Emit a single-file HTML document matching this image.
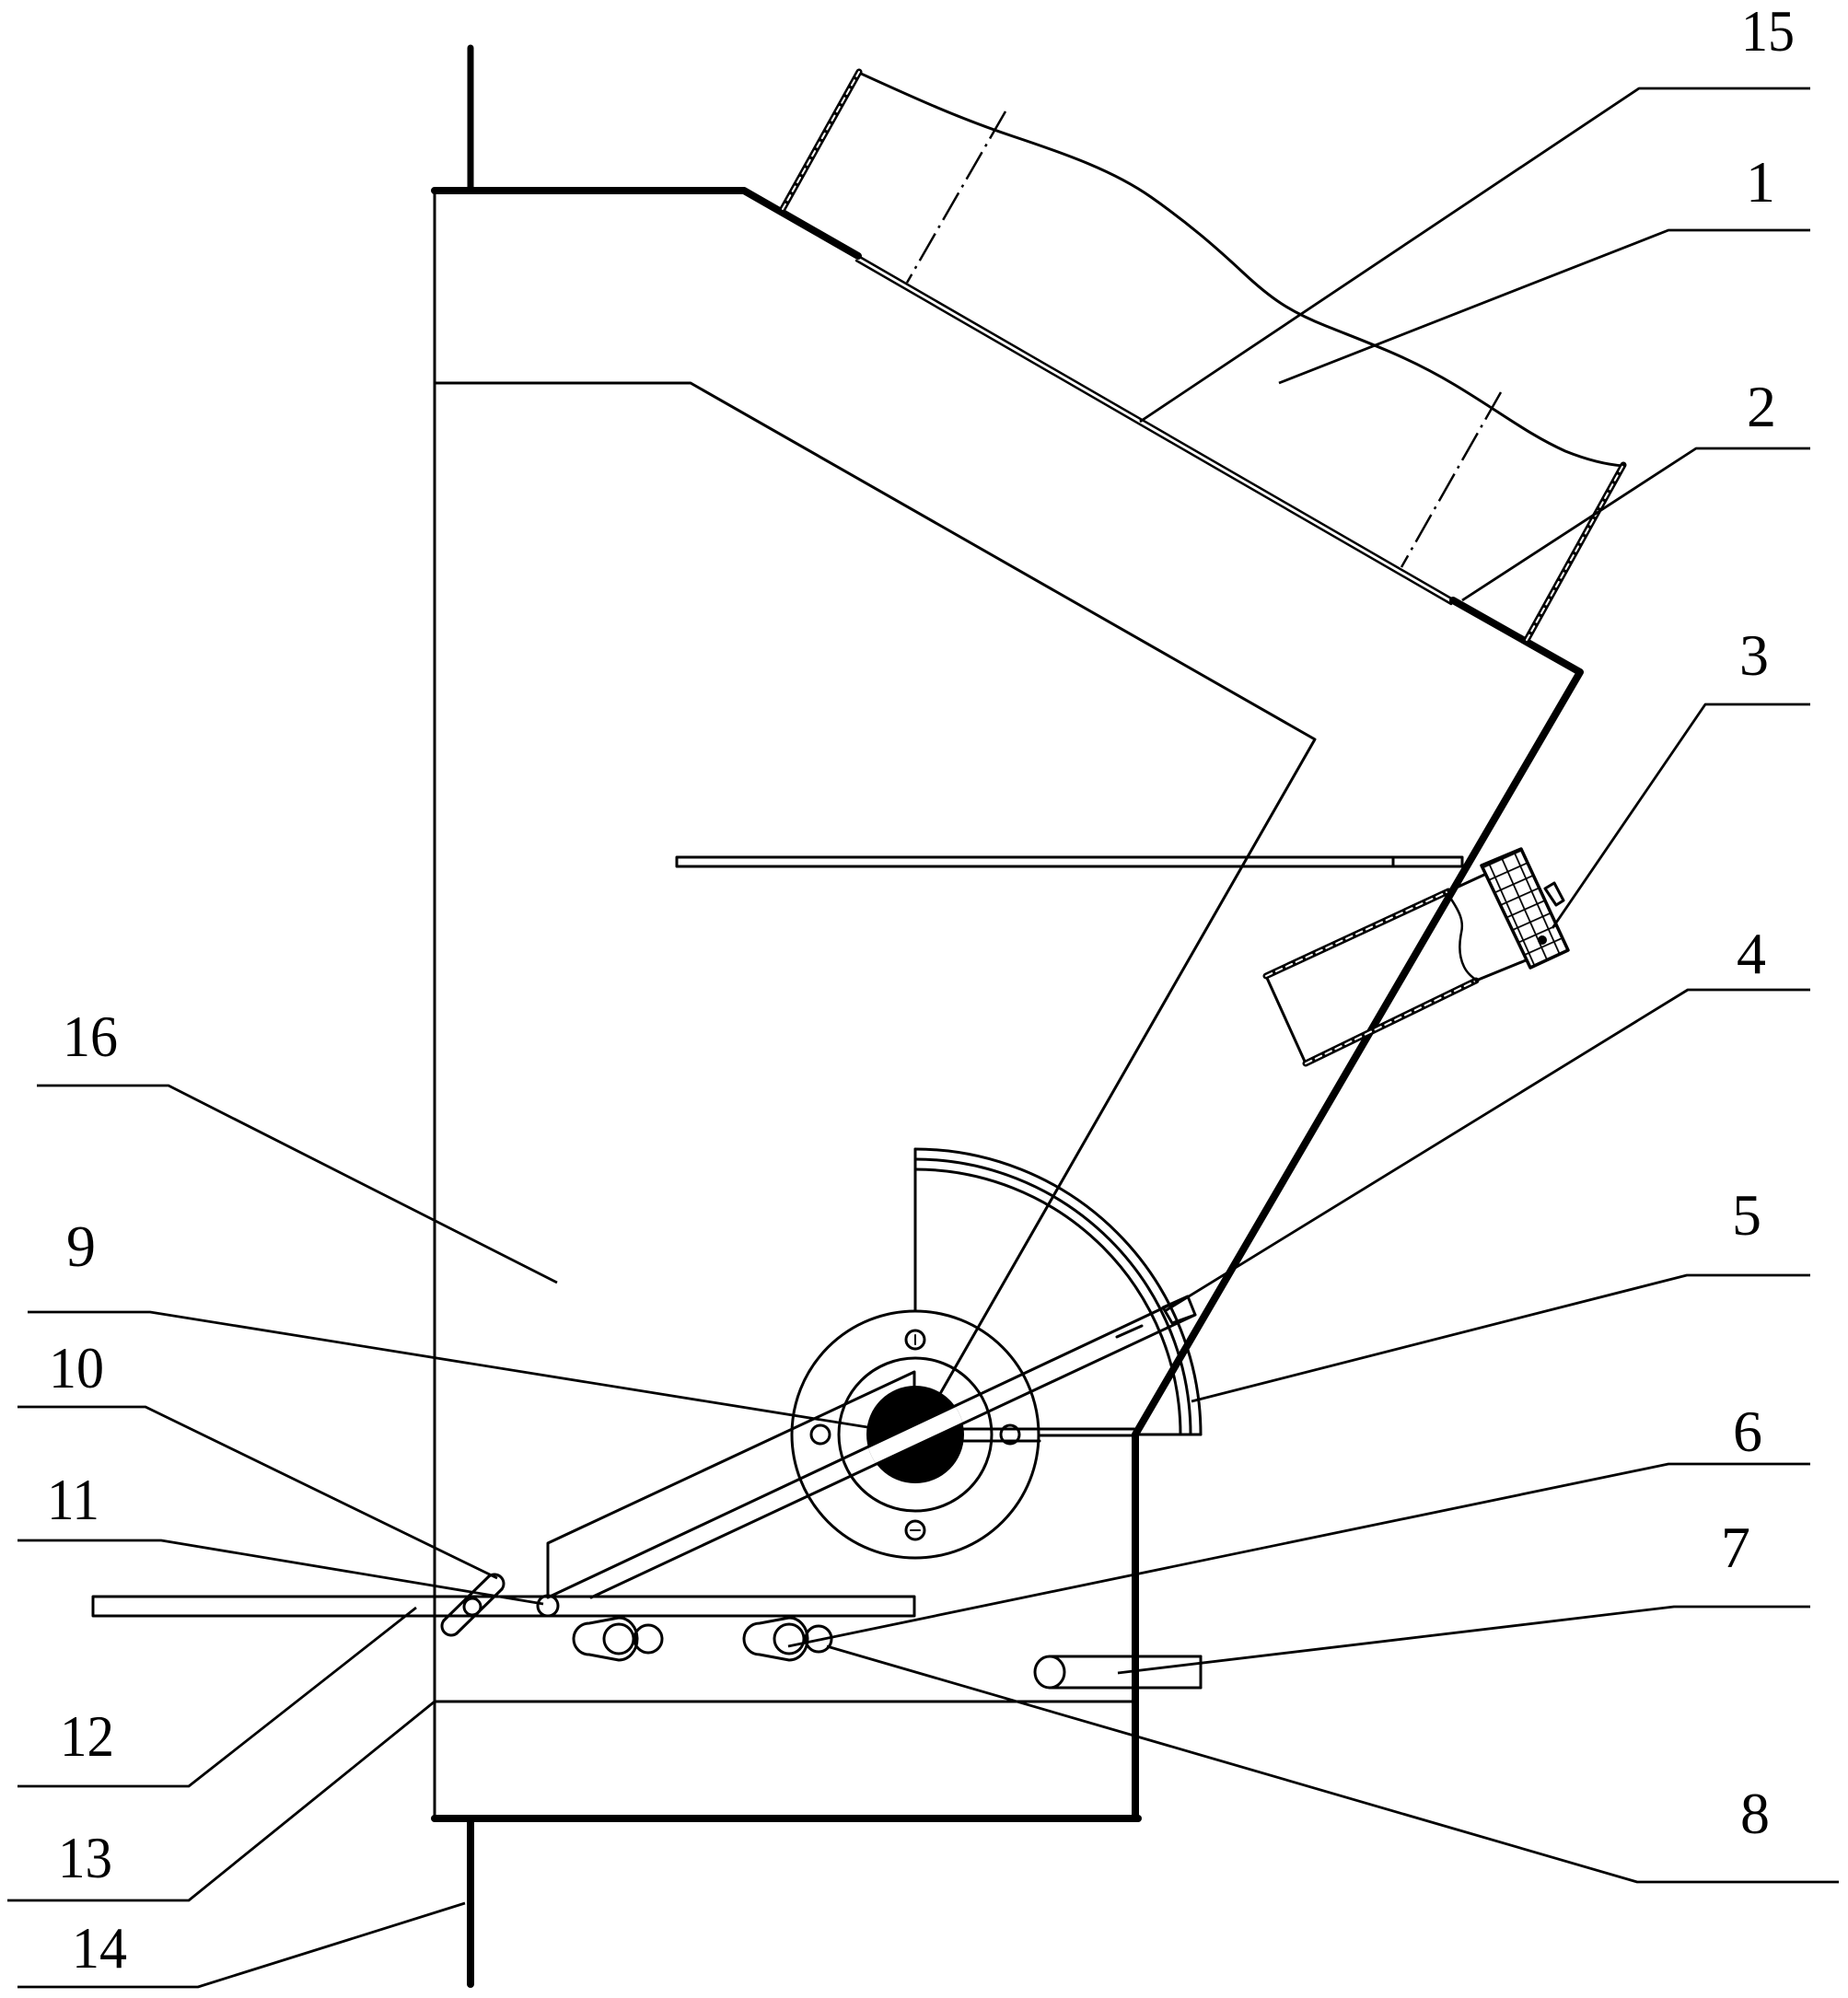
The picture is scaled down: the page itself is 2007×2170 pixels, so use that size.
<!DOCTYPE html>
<html>
<head>
<meta charset="utf-8">
<style>
html,body{margin:0;padding:0;background:#fff;}
svg{display:block;}
text{font-family:"Liberation Serif",serif;font-size:64px;fill:#000;}
</style>
</head>
<body>
<svg width="2007" height="2170" viewBox="0 0 2007 2170" xmlns="http://www.w3.org/2000/svg">
<defs>
  <pattern id="hatch" patternUnits="userSpaceOnUse" width="15" height="15" patternTransform="rotate(-24)">
    <rect width="15" height="15" fill="#fff"/>
    <path d="M0,0 H15 M0,0 V15" stroke="#000" stroke-width="3.5"/>
  </pattern>
  <clipPath id="hubclip"><circle cx="994" cy="1558" r="53"/></clipPath>
</defs>
<rect width="2007" height="2170" fill="#fff"/>

<g fill="none" stroke="#000" stroke-linecap="round" stroke-linejoin="round">
  <!-- top rod -->
  <line x1="511" y1="52" x2="511" y2="207" stroke-width="7"/>
  <!-- bottom rod -->
  <line x1="511" y1="1975" x2="511" y2="2155" stroke-width="8"/>
  <!-- body left thin line -->
  <line x1="472" y1="205" x2="472" y2="1975" stroke-width="3"/>
  <!-- top thick -->
  <polyline points="472,207 808,207 932,278" stroke-width="8"/>
  <!-- slope double thin -->
  <line x1="932" y1="278" x2="1578" y2="651" stroke-width="2.5"/>
  <line x1="930" y1="283" x2="1576" y2="656" stroke-width="2.5"/>
  <!-- thick slope end and wall -->
  <polyline points="1578,652 1716,730 1233,1558 1233,1975" stroke-width="8"/>
  <!-- bottom thick -->
  <line x1="472" y1="1975" x2="1236" y2="1975" stroke-width="8"/>
  <!-- horizontal line 13 -->
  <line x1="472" y1="1848" x2="1233" y2="1848" stroke-width="3"/>

  <!-- inner outline (16) -->
  <polyline points="472,416 750,416 1428,803 1022,1512" stroke-width="3"/>

  <!-- plate -->
  <rect x="735" y="931" width="853" height="10" stroke-width="3"/>
  <line x1="1513" y1="931" x2="1513" y2="941" stroke-width="3"/>

  <!-- funnel (1) -->
  <path d="M933,79 C990,105 1040,128 1100,148 C1160,168 1210,186 1250,214 C1290,242 1320,268 1350,296 C1380,324 1400,338 1440,354 C1490,374 1530,388 1580,418 C1630,448 1660,472 1700,490 C1730,502 1750,505 1763,506" stroke-width="3"/>
  <!-- funnel sides double dashed -->
  <line x1="850" y1="227" x2="933" y2="78" stroke-width="7"/>
  <line x1="850" y1="227" x2="933" y2="78" stroke="#fff" stroke-width="2" stroke-dasharray="6 5"/>
  <line x1="1658" y1="695" x2="1763" y2="505" stroke-width="7"/>
  <line x1="1658" y1="695" x2="1763" y2="505" stroke="#fff" stroke-width="2" stroke-dasharray="6 5"/>
  <!-- dash-dot lines -->
  <line x1="1092" y1="121" x2="985" y2="307" stroke-width="2.5" stroke-dasharray="34 7 3 7" stroke-linecap="butt"/>
  <line x1="1630" y1="426" x2="1522" y2="616" stroke-width="2.5" stroke-dasharray="34 7 3 7" stroke-linecap="butt"/>

  <!-- item 3 tube -->
  <line x1="1375" y1="1060" x2="1418" y2="1155" stroke-width="3"/>
  <line x1="1375" y1="1060" x2="1573" y2="968" stroke-width="7"/>
  <line x1="1375" y1="1060" x2="1573" y2="968" stroke="#fff" stroke-width="2" stroke-dasharray="7 5"/>
  <line x1="1418" y1="1155" x2="1603" y2="1065" stroke-width="7"/>
  <line x1="1418" y1="1155" x2="1603" y2="1065" stroke="#fff" stroke-width="2" stroke-dasharray="7 5"/>
  <line x1="1573" y1="968" x2="1612" y2="950" stroke-width="3"/>
  <line x1="1603" y1="1065" x2="1657" y2="1043" stroke-width="3"/>
  <path d="M1575,975 C1585,990 1590,1000 1587,1013 C1584,1028 1585,1040 1590,1050 C1594,1058 1600,1062 1604,1065" stroke-width="2.5"/>
  <polygon points="1609,940 1652,922 1703,1032 1662,1051" fill="url(#hatch)" stroke-width="3.5"/>
  <polygon points="1678,965 1688,959 1698,978 1690,983" stroke-width="3"/>
</g>
<circle cx="1675" cy="1021" r="5" fill="#000"/>

<g fill="none" stroke="#000" stroke-linecap="round" stroke-linejoin="round">
  <!-- arcs (5) -->
  <line x1="994" y1="1248" x2="994" y2="1424" stroke-width="3"/>
  <path d="M994,1248 A310,310 0 0 1 1304,1558" stroke-width="3"/>
  <path d="M994,1259 A299,299 0 0 1 1293,1558" stroke-width="3"/>
  <path d="M994,1270 A288,288 0 0 1 1282,1558" stroke-width="3"/>
  <line x1="1236" y1="1558" x2="1304" y2="1558" stroke-width="3"/>
  <!-- hub horizontal bar -->
  <line x1="1047" y1="1552" x2="1232" y2="1552" stroke-width="3"/>
  <line x1="1130" y1="1559" x2="1232" y2="1559" stroke-width="3"/>
  <line x1="1047" y1="1565" x2="1129" y2="1565" stroke-width="3"/>
</g>

<!-- hub black circle with band -->
<circle cx="994" cy="1558" r="53" fill="#000"/>
<g clip-path="url(#hubclip)">
  <polygon points="595,1735 1290,1408 1298,1428 642,1735" fill="#fff"/>
  <polygon points="975,1559 1002,1547 995,1555 1010,1561 985,1563" fill="#fff"/>
</g>

<g fill="none" stroke="#000" stroke-linecap="round" stroke-linejoin="round" stroke-width="3">
  <circle cx="994" cy="1558" r="134"/>
  <circle cx="994" cy="1558" r="83"/>
  <circle cx="994" cy="1455" r="10"/>
  <circle cx="994" cy="1662" r="10"/>
  <circle cx="891" cy="1558" r="10"/>
  <circle cx="1097" cy="1558" r="10"/>
  <line x1="994" y1="1450" x2="994" y2="1460" stroke-width="2"/>
  <line x1="989" y1="1662" x2="999" y2="1662" stroke-width="2"/>

  <!-- arm (4) -->
  <polyline points="993,1506 993,1490 595,1676 595,1733"/>
  <line x1="595" y1="1735" x2="1290" y2="1408"/>
  <line x1="642" y1="1735" x2="1298" y2="1428"/>
  <polygon points="1263,1420 1290,1408 1298,1428 1273,1437"/>
  <line x1="1213" y1="1452" x2="1240" y2="1440"/>

  <!-- bar 12 -->
  <rect x="101" y="1734" width="892" height="21"/>

  <!-- item 10 slot -->
  <line x1="531" y1="1712" x2="482" y2="1760"/>
  <line x1="545" y1="1726" x2="496" y2="1774"/>
  <path d="M531,1712 A10,10 0 0 1 545,1726"/>
  <path d="M496,1774 A10,10 0 0 1 482,1760"/>
  <circle cx="513" cy="1745" r="9"/>
  <!-- item 11 -->
  <circle cx="595" cy="1744" r="11"/>

  <!-- cams -->
  <path d="M640,1763 L672,1757 A20,23 0 0 1 672,1803 L640,1797 A17,17 0 0 1 640,1763 Z"/>
  <circle cx="672" cy="1780" r="16"/>
  <circle cx="704" cy="1780" r="15"/>
  <path d="M825,1763 L857,1757 A20,23 0 0 1 857,1803 L825,1797 A17,17 0 0 1 825,1763 Z"/>
  <circle cx="857" cy="1780" r="16"/>
  <circle cx="889" cy="1780" r="14"/>

  <!-- item 7 -->
  <line x1="1140" y1="1799" x2="1304" y2="1799"/>
  <line x1="1140" y1="1833" x2="1304" y2="1833"/>
  <line x1="1304" y1="1799" x2="1304" y2="1833"/>
  <ellipse cx="1140" cy="1816" rx="16" ry="17" fill="#fff"/>
</g>

<!-- leaders -->
<g fill="none" stroke="#000" stroke-width="2.8" stroke-linejoin="round">
  <polyline points="1966,96 1780,96 1238,458"/>
  <polyline points="1966,250 1812,250 1389,416"/>
  <polyline points="1966,487 1842,487 1588,652"/>
  <polyline points="1966,765 1852,765 1686,1008"/>
  <polyline points="1966,1075 1833,1075 1265,1424"/>
  <polyline points="1966,1385 1832,1385 1294,1522"/>
  <polyline points="1966,1590 1812,1590 856,1788"/>
  <polyline points="1966,1745 1818,1745 1214,1817"/>
  <polyline points="1997,2044 1778,2044 898,1788"/>
  <polyline points="40,1179 183,1179 605,1393"/>
  <polyline points="30,1425 163,1425 942,1550"/>
  <polyline points="19,1528 158,1528 540,1714"/>
  <polyline points="19,1673 175,1673 590,1742"/>
  <polyline points="19,1940 205,1940 452,1746"/>
  <polyline points="8,2064 205,2064 472,1848"/>
  <polyline points="19,2158 215,2158 505,2067"/>
</g>

<!-- labels -->
<text x="1891" y="55" textLength="58" lengthAdjust="spacingAndGlyphs">15</text>
<text x="1912" y="219" text-anchor="middle">1</text>
<text x="1913" y="463" text-anchor="middle">2</text>
<text x="1905" y="733" text-anchor="middle">3</text>
<text x="1902" y="1057" text-anchor="middle">4</text>
<text x="1897" y="1341" text-anchor="middle">5</text>
<text x="1898" y="1576" text-anchor="middle">6</text>
<text x="1885" y="1702" text-anchor="middle">7</text>
<text x="1906" y="1991" text-anchor="middle">8</text>
<text x="68" y="1147" textLength="60" lengthAdjust="spacingAndGlyphs">16</text>
<text x="88" y="1375" text-anchor="middle">9</text>
<text x="53" y="1507" textLength="60" lengthAdjust="spacingAndGlyphs">10</text>
<text x="51" y="1650" textLength="57" lengthAdjust="spacingAndGlyphs">11</text>
<text x="65" y="1907" textLength="59" lengthAdjust="spacingAndGlyphs">12</text>
<text x="63" y="2039" textLength="59" lengthAdjust="spacingAndGlyphs">13</text>
<text x="78" y="2137" textLength="60" lengthAdjust="spacingAndGlyphs">14</text>
</svg>
</body>
</html>
